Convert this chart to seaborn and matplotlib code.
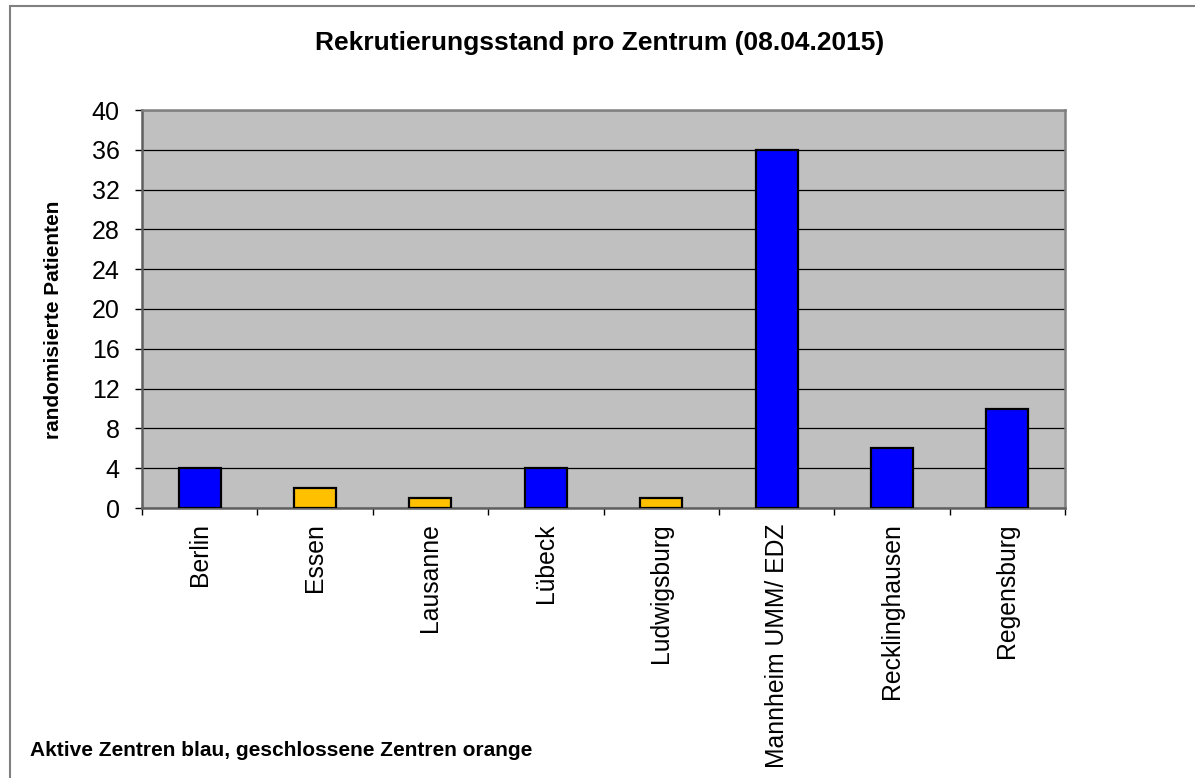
import pandas as pd
import matplotlib.pyplot as plt
import seaborn as sns
from matplotlib.patches import Rectangle
from matplotlib.ticker import MultipleLocator, FixedLocator

# Daten
zentren = ['Berlin', 'Essen', 'Lausanne', 'Lübeck', 'Ludwigsburg',
           'Mannheim UMM/ EDZ', 'Recklinghausen', 'Regensburg']
patienten = [4, 2, 1, 4, 1, 36, 6, 10]
status = ['aktiv', 'geschlossen', 'geschlossen', 'aktiv', 'geschlossen',
          'aktiv', 'aktiv', 'aktiv']

df = pd.DataFrame({'Zentrum': zentren, 'Patienten': patienten, 'Status': status})
farben = {'aktiv': '#0000FF', 'geschlossen': '#FFC000'}

sns.set_theme(style='white')
plt.rcParams['font.family'] = ['Liberation Sans', 'DejaVu Sans']
plt.rcParams['text.color'] = 'black'
plt.rcParams['xtick.color'] = 'black'
plt.rcParams['ytick.color'] = 'black'

fig = plt.figure(figsize=(11.95, 7.78), dpi=100)
ax = fig.add_axes([142 / 1195, 1 - 508 / 778, (1065 - 142) / 1195, (508 - 110) / 778])
ax.set_facecolor('#C0C0C0')

sns.barplot(data=df, x='Zentrum', y='Patienten', hue='Status', palette=farben,
            dodge=False, legend=False, width=0.365, edgecolor='black',
            linewidth=1.6, saturation=1, ax=ax, zorder=3)

# Achsen
ax.set_xlim(-0.5, len(zentren) - 0.5)
ax.set_ylim(0, 40)
ax.yaxis.set_major_locator(MultipleLocator(4))
ax.grid(axis='y', color='black', linewidth=0.9, zorder=1)
ax.set_axisbelow(True)

ax.xaxis.set_minor_locator(FixedLocator([i - 0.5 for i in range(len(zentren) + 1)]))
ax.tick_params(axis='x', which='major', length=0, pad=11, labelsize=17.8,
               labelrotation=90, labelcolor='black')
ax.tick_params(axis='x', which='minor', length=5, width=1, color='black', bottom=True)
ax.tick_params(axis='y', which='major', length=5, width=1, color='black', left=True,
               pad=11, labelsize=18, labelcolor='black')

for side in ['top', 'right']:
    ax.spines[side].set_color('#808080')
    ax.spines[side].set_linewidth(1.8)
for side in ['left', 'bottom']:
    ax.spines[side].set_color('#606060')
    ax.spines[side].set_linewidth(1.8)

ax.set_xlabel('')
ax.set_ylabel('')

# Texte
fig.text(600 / 1195, 1 - 50 / 778, 'Rekrutierungsstand pro Zentrum (08.04.2015)',
         ha='center', va='baseline', fontsize=19, fontweight='bold', color='black')
fig.text(54 / 1195, 1 - 320 / 778, 'randomisierte Patienten', rotation=90,
         ha='center', va='center', fontsize=15, fontweight='bold', color='black')
fig.text(30 / 1195, 1 - 750 / 778, 'Aktive Zentren blau, geschlossene Zentren orange',
         ha='left', va='center', fontsize=15, fontweight='bold', color='black')

# Rahmen
fig.patches.append(Rectangle((10 / 1195, -0.05), 1.1, 1.05 - 6 / 778,
                             transform=fig.transFigure, fill=False,
                             edgecolor='#808080', linewidth=1.5))

plt.savefig('out.png', dpi=100)
plt.close()
